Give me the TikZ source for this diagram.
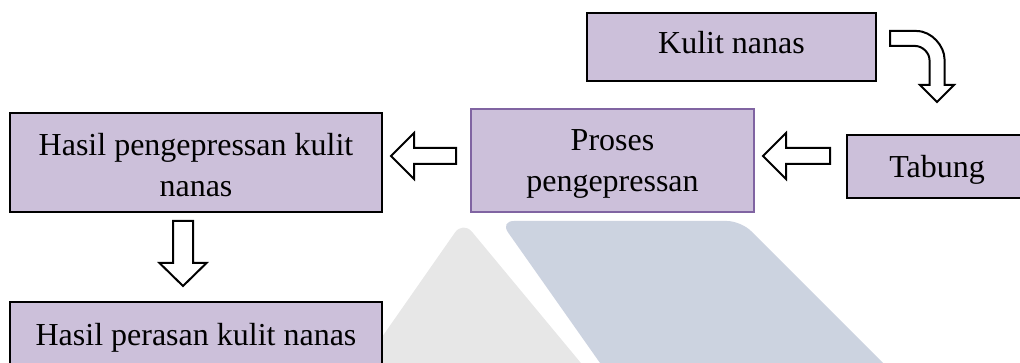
\documentclass[tikz,border=0pt]{standalone}
\usepackage{fontspec}
\setmainfont{Liberation Serif}
\usetikzlibrary{calc}
\definecolor{boxfill}{HTML}{CCC0DA}
\definecolor{boxedge}{HTML}{8064A2}
\definecolor{markgray}{HTML}{E7E7E7}
\definecolor{markblue}{HTML}{CCD3E0}

% hollow block arrow pointing left, from tail #1 to tip #2
\newcommand\lblockarrow[2]{%
  \draw[fatarrow] ($(#1)+(0,-8)$) -- ($(#2)+(23,-8)$) -- ($(#2)+(23,-23)$) -- (#2)
    -- ($(#2)+(23,23)$) -- ($(#2)+(23,8)$) -- ($(#1)+(0,8)$) -- cycle;}
% hollow block arrow pointing down, from tail #1 to tip #2
\newcommand\dblockarrow[2]{%
  \draw[fatarrow] ($(#1)+(-10,0)$) -- ($(#2)+(-10,-23)$) -- ($(#2)+(-23.5,-23)$) -- (#2)
    -- ($(#2)+(23.5,-23)$) -- ($(#2)+(10,-23)$) -- ($(#1)+(10,0)$) -- cycle;}
% invisible struts that set how high the text sits in its box
\newcommand\upstrut[1]{\rule{0pt}{#1}}
\newcommand\downstrut[1]{\rule[-#1]{0pt}{#1}}

\begin{document}
\begin{tikzpicture}[x=1pt,y=-1pt,
  box/.style={draw=black, line width=2pt, fill=boxfill, inner sep=0pt, outer sep=0pt,
    align=center, font=\fontsize{32}{41}\selectfont},
  procbox/.style={box, draw=boxedge, line width=2.5pt},
  fatarrow/.style={draw=black, line width=2pt, fill=white, line join=miter}]
\useasboundingbox (0,0) rectangle (1020,363);
\clip (0,0) rectangle (1020,363);

% faint logo in the background
\fill[markgray, rounded corners=14pt] (352,380) -- (463,221) -- (595,380) -- cycle;
\fill[markblue, rounded corners=14pt] (612,380) -- (500,221) -- (741,221) -- (900,380) -- cycle;

% process boxes
\node[box, minimum width=289pt, minimum height=68pt] (kulit) at (731.5,47) {Kulit nanas\downstrut{9pt}};
\node[box, minimum width=372pt, minimum height=99pt] (hasil) at (196,162.5) {\upstrut{28pt}Hasil pengepressan kulit\\nanas};
\node[procbox, minimum width=283pt, minimum height=103pt] (proses) at (612.5,160.5) {\upstrut{27pt}Proses\\pengepressan};
\node[box, minimum width=180pt, minimum height=63pt] (tabung) at (937,166.5) {\upstrut{28pt}Tabung};
\node[box, anchor=north, minimum width=372pt, text height=43pt, text depth=60pt] (perasan) at (196,302) {Hasil perasan kulit nanas};

% arrow ends
\coordinate (a1t) at ([shift={(-17,-10.5)}]tabung.west);
\coordinate (a1h) at ([shift={(9,-4.5)}]proses.east);
\coordinate (a2t) at ([shift={(-15,-4.5)}]proses.west);
\coordinate (a2h) at ([shift={(9,-6.5)}]hasil.east);
\coordinate (a3t) at ([shift={(-13,9)}]hasil.south);
\coordinate (a3h) at ([shift={(-13,-16)}]perasan.north);
\coordinate (a4t) at ([shift={(14,-8.5)}]kulit.east);
\coordinate (a4h) at ([shift={(0,-33)}]tabung.north);

% bent arrow: Kulit nanas -> Tabung
\draw[fatarrow] ($(a4t)+(0,-7.5)$) -- ($(a4h)+(-20.5,-71)$)
  .. controls ($(a4h)+(-5,-71)$) and ($(a4h)+(7.5,-55.5)$) .. ($(a4h)+(7.5,-43)$)
  -- ($(a4h)+(7.5,-17)$) -- ($(a4h)+(17,-17)$) -- (a4h) -- ($(a4h)+(-17,-17)$)
  -- ($(a4h)+(-7.5,-17)$) -- ($(a4h)+(-7.5,-42)$)
  .. controls ($(a4h)+(-7.5,-49.7)$) and ($(a4h)+(-15.2,-56)$) .. ($(a4h)+(-21.5,-56)$)
  -- ($(a4t)+(0,7.5)$) -- cycle;

\lblockarrow{a1t}{a1h}
\lblockarrow{a2t}{a2h}
\dblockarrow{a3t}{a3h}
\end{tikzpicture}
\end{document}
